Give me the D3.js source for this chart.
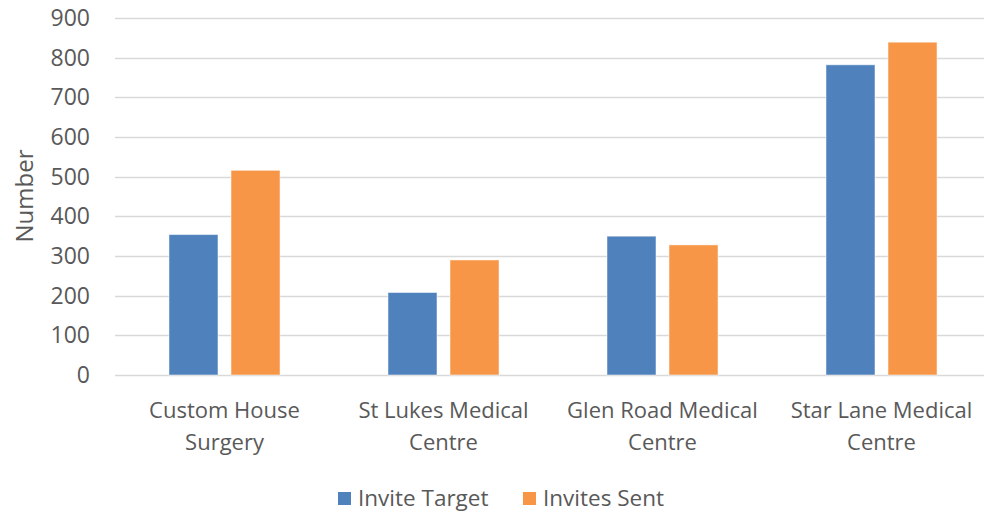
<!DOCTYPE html>
<html>
<head>
<meta charset="utf-8">
<script src="https://cdn.jsdelivr.net/npm/d3@7"></script>
<style>
  body { margin: 0; background: #fff; }
  text { font-family: "Open Sans", sans-serif; fill: #595959; }
</style>
</head>
<body>
<script>
// data
var categories = [["Custom House", "Surgery"], ["St Lukes Medical", "Centre"], ["Glen Road Medical", "Centre"], ["Star Lane Medical", "Centre"]];
var seriesNames = ["Invite Target", "Invites Sent"];
var inviteTarget = [354, 208, 350, 782];
var invitesSent = [516, 290, 328, 839];
var yTicks = [0, 100, 200, 300, 400, 500, 600, 700, 800, 900];
var colors = ["#4f81bd", "#f79646"];

var width = 984, height = 512;
var svg = d3.select("body").append("svg")
        .attr("width", width)
        .attr("height", height);

var x0 = d3.scaleBand()
        .domain(d3.range(categories.length))
        .range([115, 991])
        .paddingInner(0.493)
        .paddingOuter(0.2465);

var x1 = d3.scaleBand()
        .domain(d3.range(seriesNames.length))
        .range([0, x0.bandwidth()])
        .paddingInner(0.21);

var y = d3.scaleLinear()
        .domain([0, 900])
        .range([375, 18]);

// gridlines
svg.append("g")
        .selectAll("line")
        .data(yTicks)
        .enter().append("line")
                .attr("x1", 115)
                .attr("x2", 984)
                .attr("y1", function(d) {return Math.round(y(d)) + 0.5})
                .attr("y2", function(d) {return Math.round(y(d)) + 0.5})
                .attr("stroke", "#d9d9d9")
                .attr("stroke-width", 1.5);

// y tick labels
svg.append("g")
        .selectAll("text")
        .data(yTicks)
        .enter().append("text")
        .text(function(d) {return d})
                .attr("x", 90)
                .attr("y", function(d) {return y(d)})
                .attr("dy", "0.35em")
                .attr("text-anchor", "end")
                .style("font-size", "23px");

// bars
var allSeries = [inviteTarget, invitesSent];
allSeries.forEach(function(vals, s) {
    svg.append("g")
            .selectAll("rect")
            .data(vals)
            .enter().append("rect")
                    .attr("x", function(d, i) {return x0(i) + x1(s)})
                    .attr("y", function(d) {return y(d)})
                    .attr("width", x1.bandwidth())
                    .attr("height", function(d) {return y(0) - y(d)})
                    .attr("fill", colors[s])
                    .attr("stroke", "#ffffff")
                    .attr("stroke-opacity", 0.5)
                    .attr("stroke-width", 1);
});

// category labels
var cat = svg.append("g")
        .selectAll("text")
        .data(categories)
        .enter().append("text")
                .attr("text-anchor", "middle")
                .attr("transform", function(d, i) {return "translate(" + (x0(i) + x0.bandwidth() / 2) + ",0)"})
                .style("font-size", "22px");
cat.selectAll("tspan")
        .data(function(d) {return d})
        .enter().append("tspan")
        .text(function(d) {return d})
                .attr("x", 0)
                .attr("y", function(d, i) {return 418 + i * 32});

// y axis title
svg.append("text")
        .text("Number")
        .attr("transform", "translate(33,196) rotate(-90)")
        .attr("text-anchor", "middle")
        .style("font-size", "24px");

// legend
var legendX = [338, 523];
var leg = svg.append("g")
        .selectAll("g")
        .data(seriesNames)
        .enter().append("g")
                .attr("transform", function(d, i) {return "translate(" + legendX[i] + ",0)"});
leg.append("rect")
        .attr("x", 0)
        .attr("y", 492)
        .attr("width", 13)
        .attr("height", 13)
        .attr("fill", function(d, i) {return colors[i]});
leg.append("text")
        .text(function(d) {return d})
        .attr("x", 20)
        .attr("y", 498)
        .attr("dy", "0.35em")
        .style("font-size", "22.5px");
</script>
</body>
</html>
